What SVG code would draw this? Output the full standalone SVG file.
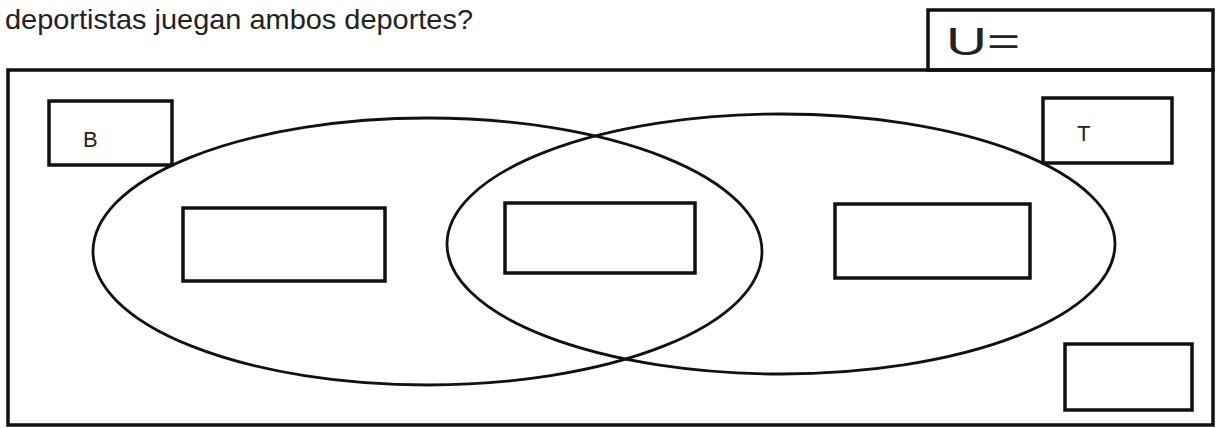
<svg xmlns="http://www.w3.org/2000/svg" width="1217" height="428" viewBox="0 0 1217 428">
<style>
.box{fill:none;stroke:#111;stroke-width:3.5}
.ell{fill:none;stroke:#111;stroke-width:2.8}
.lbl{font-family:"Liberation Sans",Arial,sans-serif;fill:#222}
</style>
<rect width="1217" height="428" fill="#fff"/>
<text class="lbl" x="5" y="29" font-size="28" textLength="468" lengthAdjust="spacingAndGlyphs">deportistas juegan ambos deportes?</text>
<g id="universe">
<rect class="box" x="8" y="70" width="1205" height="355"/>
</g>
<g id="u-box">
<rect class="box" x="928" y="10" width="285" height="60"/>
<text class="lbl" x="946" y="55" font-size="39" textLength="74" lengthAdjust="spacingAndGlyphs">U=</text>
</g>
<g id="set-b">
<ellipse class="ell" cx="427.5" cy="251.5" rx="334.5" ry="133.5"/>
</g>
<g id="set-t">
<ellipse class="ell" cx="781" cy="244" rx="334" ry="130"/>
</g>
<g id="label-b">
<rect class="box" x="49" y="101" width="123" height="64"/>
<text class="lbl" x="83" y="147" font-size="22">B</text>
</g>
<g id="label-t">
<rect class="box" x="1043" y="98" width="129" height="65"/>
<text class="lbl" x="1077" y="141" font-size="22">T</text>
</g>
<g id="only-b">
<rect class="box" x="183" y="208" width="202" height="73"/>
</g>
<g id="both">
<rect class="box" x="505" y="203" width="190" height="70"/>
</g>
<g id="only-t">
<rect class="box" x="835" y="204" width="195" height="74"/>
</g>
<g id="outside">
<rect class="box" x="1065" y="344" width="127" height="66"/>
</g>
<g id="connectors"></g>
</svg>
